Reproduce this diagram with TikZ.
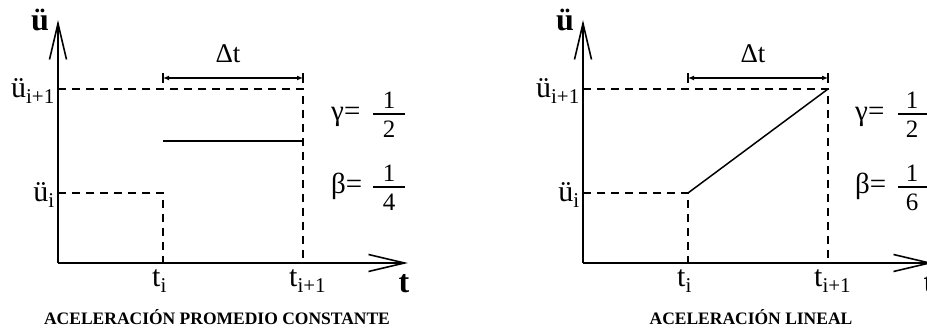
\documentclass[tikz,border=0pt]{standalone}
\usepackage{fontspec}
\setmainfont{Liberation Serif}
\usetikzlibrary{arrows.meta}
\tikzset{
  axis/.style={line width=1.7pt,-{Straight Barb[length=36pt,width=17pt,line width=1.6pt]}},
  guide/.style={line width=1.3pt,dash pattern=on 8pt off 6pt},
  curve/.style={line width=1.5pt},
  fracbar/.style={line width=1.3pt},
  dimline/.style={line width=1.3pt,{Latex[length=6pt,width=5pt]}-{Latex[length=6pt,width=5pt]}},
  tickmark/.style={line width=1.3pt},
  lbl/.style={inner sep=0pt,font=\fontsize{30}{33}\selectfont},
  dlbl/.style={inner sep=0pt,font=\fontsize{27}{30}\selectfont},
  axlbl/.style={inner sep=0pt,font=\fontsize{32}{35}\selectfont\bfseries},
  coef/.style={inner sep=0pt,font=\fontsize{29}{32}\selectfont},
  digit/.style={inner sep=0pt,font=\fontsize{25}{28}\selectfont},
  captext/.style={inner sep=0pt,font=\fontsize{17.5}{20}\selectfont\bfseries},
}
\newcommand{\sbs}[1]{\textsubscript{#1}}
\begin{document}
\begin{tikzpicture}[x=1pt,y=-1pt]
\useasboundingbox (0,0) rectangle (927,328);
\clip (0,0) rectangle (927,328);
% ---------- left panel ----------
\begin{scope}
  \coordinate (LO) at (58,263);
  \coordinate (LY) at (58,20);
  \coordinate (LX) at (408,263);
  \coordinate (LA) at (58,193);
  \coordinate (LB) at (58,89);
  \coordinate (LC) at (163,193);
  \coordinate (LD) at (303,89);
  \coordinate (LE) at (163,263);
  \coordinate (LF) at (303,263);
  \coordinate (LG) at (163,141);
  \coordinate (LH) at (303,141);
  \coordinate (LP) at (163,78);
  \coordinate (LQ) at (303,78);
  \coordinate (LgA) at (373,114);
  \coordinate (LgB) at (405,114);
  \coordinate (LbA) at (373,187);
  \coordinate (LbB) at (405,187);
  \draw[guide] (LA) -- (LC) -- (LE);
  \draw[guide] (LB) -- (LD) -- (LF);
  \draw[curve] (LG) -- (LH);
  \draw[dimline] (LP) -- (LQ);
  \draw[tickmark] ([yshift=-5pt]LP) -- ([yshift=5pt]LP);
  \draw[tickmark] ([yshift=-5pt]LQ) -- ([yshift=5pt]LQ);
  \draw[axis] (LO) -- (LY);
  \draw[axis] (LO) -- (LX);
  \node[axlbl,anchor=base] (Lu) at (40,31) {ü};
  \node[axlbl,anchor=base] (Lt) at (404,293) {t};
  \node[lbl,anchor=base east] (Lui1) at (55,98) {ü\sbs{i+1}};
  \node[lbl,anchor=base east] (Lui) at (55,202) {ü\sbs{i}};
  \node[lbl,anchor=base west] (Lti) at (152,287) {t\sbs{i}};
  \node[lbl,anchor=base west] (Lti1) at (289,287) {t\sbs{i+1}};
  \node[dlbl,anchor=base] (Ldt) at (228,63) {Δt};
  \node[coef,anchor=base west] (Lg) at (331,121) {γ=};
  \draw[fracbar] (LgA) -- (LgB);
  \node[digit,anchor=base] (Lg1) at (389,109) {1};
  \node[digit,anchor=base] (Lg2) at (389,138) {2};
  \node[coef,anchor=base west] (Lb) at (331,194) {β=};
  \draw[fracbar] (LbA) -- (LbB);
  \node[digit,anchor=base] (Lb1) at (389,182) {1};
  \node[digit,anchor=base] (Lb4) at (389,211) {4};
  \node[captext,anchor=base] (Lcap) at (217,325) {ACELERACIÓN PROMEDIO CONSTANTE};
\end{scope}
% ---------- right panel ----------
\begin{scope}[xshift=525pt]
  \coordinate (RO) at (58,263);
  \coordinate (RY) at (58,20);
  \coordinate (RX) at (408,263);
  \coordinate (RA) at (58,193);
  \coordinate (RB) at (58,89);
  \coordinate (RC) at (163,193);
  \coordinate (RD) at (303,89);
  \coordinate (RE) at (163,263);
  \coordinate (RF) at (303,263);
  \coordinate (RP) at (163,78);
  \coordinate (RQ) at (303,78);
  \coordinate (RgA) at (373,114);
  \coordinate (RgB) at (405,114);
  \coordinate (RbA) at (373,187);
  \coordinate (RbB) at (405,187);
  \draw[guide] (RA) -- (RC) -- (RE);
  \draw[guide] (RB) -- (RD) -- (RF);
  \draw[curve] (RC) -- (RD);
  \draw[dimline] (RP) -- (RQ);
  \draw[tickmark] ([yshift=-5pt]RP) -- ([yshift=5pt]RP);
  \draw[tickmark] ([yshift=-5pt]RQ) -- ([yshift=5pt]RQ);
  \draw[axis] (RO) -- (RY);
  \draw[axis] (RO) -- (RX);
  \node[axlbl,anchor=base] (Ru) at (40,31) {ü};
  \node[axlbl,anchor=base] (Rt) at (404,293) {t};
  \node[lbl,anchor=base east] (Rui1) at (55,98) {ü\sbs{i+1}};
  \node[lbl,anchor=base east] (Rui) at (55,202) {ü\sbs{i}};
  \node[lbl,anchor=base west] (Rti) at (152,287) {t\sbs{i}};
  \node[lbl,anchor=base west] (Rti1) at (289,287) {t\sbs{i+1}};
  \node[dlbl,anchor=base] (Rdt) at (228,63) {Δt};
  \node[coef,anchor=base west] (Rg) at (330,121) {γ=};
  \draw[fracbar] (RgA) -- (RgB);
  \node[digit,anchor=base] (Rg1) at (387,109) {1};
  \node[digit,anchor=base] (Rg2) at (387,138) {2};
  \node[coef,anchor=base west] (Rb) at (330,194) {β=};
  \draw[fracbar] (RbA) -- (RbB);
  \node[digit,anchor=base] (Rb1) at (387,182) {1};
  \node[digit,anchor=base] (Rb6) at (387,211) {6};
  \node[captext,anchor=base] (Rcap) at (226,325) {ACELERACIÓN LINEAL};
\end{scope}
\end{tikzpicture}
\end{document}
